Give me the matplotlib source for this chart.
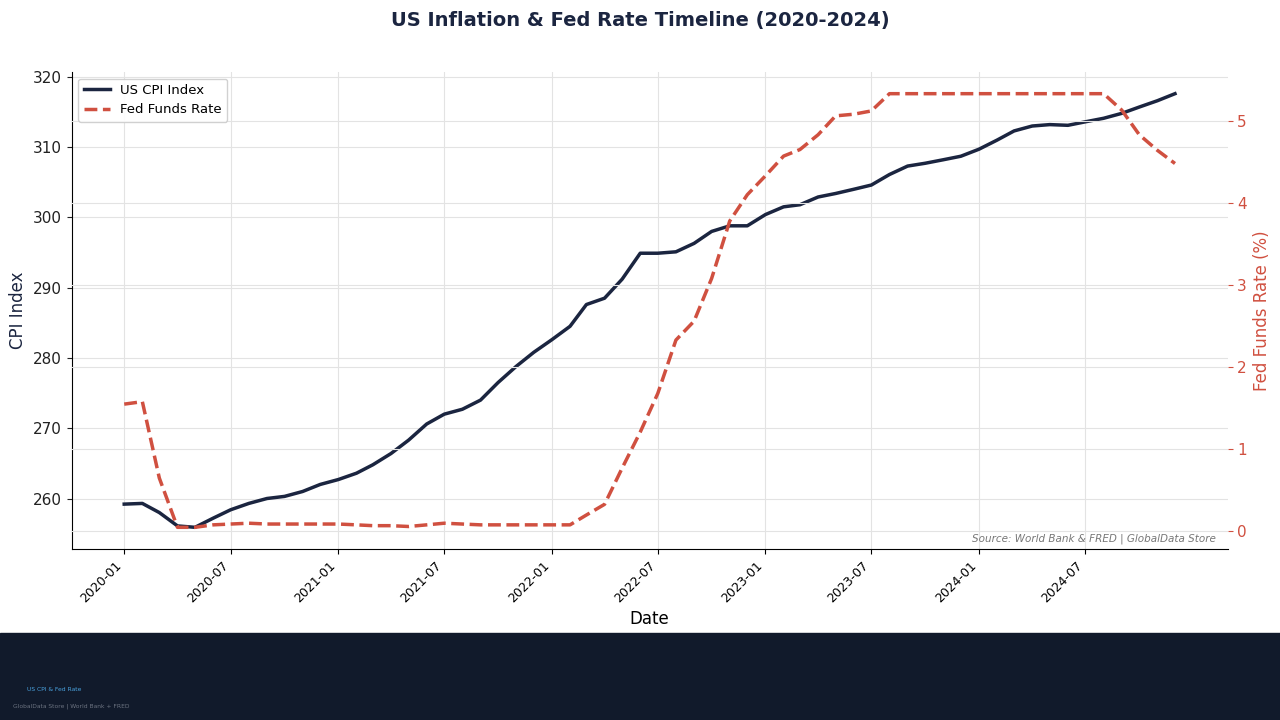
import matplotlib
matplotlib.use("Agg")
import matplotlib.pyplot as plt
import matplotlib.dates as mdates
import pandas as pd

# monthly values, Jan 2020 - Dec 2024
dates = pd.date_range("2020-01-01", "2024-12-01", freq="MS")

cpi = [
    259.2, 259.3, 258.0, 256.1, 255.9, 257.2, 258.4, 259.3, 260.0, 260.3, 261.0, 262.0,
    262.7, 263.6, 264.8, 266.4, 268.3, 270.6, 272.0, 272.7, 274.0, 276.5, 278.8, 280.8,
    282.6, 284.5, 287.6, 288.5, 291.2, 294.9, 294.9, 295.1, 296.3, 298.0, 298.8, 298.8,
    300.4, 301.5, 301.8, 302.9, 303.4, 304.0, 304.6, 306.1, 307.3, 307.7, 308.2, 308.7,
    309.7, 311.0, 312.3, 313.0, 313.2, 313.1, 313.6, 314.1, 314.8, 315.7, 316.6, 317.6,
]

fed_rate = [
    1.55, 1.58, 0.65, 0.05, 0.05, 0.08, 0.09, 0.10, 0.09, 0.09, 0.09, 0.09,
    0.09, 0.08, 0.07, 0.07, 0.06, 0.08, 0.10, 0.09, 0.08, 0.08, 0.08, 0.08,
    0.08, 0.08, 0.20, 0.33, 0.77, 1.21, 1.68, 2.33, 2.56, 3.08, 3.78, 4.10,
    4.33, 4.57, 4.65, 4.83, 5.06, 5.08, 5.12, 5.33, 5.33, 5.33, 5.33, 5.33,
    5.33, 5.33, 5.33, 5.33, 5.33, 5.33, 5.33, 5.33, 5.13, 4.83, 4.64, 4.48,
]

# half-year ticks shown on the x axis
tick_dates = pd.date_range("2020-01-01", "2024-07-01", freq="6MS")

navy = "#1b2540"
red = "#d05040"

fig = plt.figure(figsize=(12.8, 7.2), dpi=100)
ax = fig.add_axes([0.056, 0.2375, 0.903, 0.6625])
ax2 = ax.twinx()

l1, = ax.plot(dates, cpi, color=navy, lw=2.5, label="US CPI Index", zorder=3)
l2, = ax2.plot(dates, fed_rate, color=red, lw=2.5, ls="--", label="Fed Funds Rate", zorder=3)

ax.set_ylabel("CPI Index", fontsize=12, color=navy)
ax.set_xlabel("Date", fontsize=12)
ax2.set_ylabel("Fed Funds Rate (%)", fontsize=12, color=red)

ax.set_xticks(tick_dates)
ax.xaxis.set_major_formatter(mdates.DateFormatter("%Y-%m"))
plt.setp(ax.get_xticklabels(), rotation=45, ha="right", fontsize=9)
ax.tick_params(axis="y", labelsize=11, colors="#222222")
ax2.tick_params(axis="y", labelsize=11, colors=red)

ax.grid(True, color="#e3e3e3", lw=0.8)
ax2.grid(True, color="#e3e3e3", lw=0.8)
ax.set_axisbelow(True)
ax2.set_axisbelow(True)

for a in (ax, ax2):
    a.spines["top"].set_visible(False)
    a.spines["right"].set_visible(False)
ax2.spines["left"].set_visible(False)
ax2.spines["bottom"].set_visible(False)

ax2.legend(handles=[l1, l2], loc="upper left", fontsize=9.5, framealpha=0.9)

ax.text(0.99, 0.01, "Source: World Bank & FRED | GlobalData Store", transform=ax.transAxes,
        ha="right", va="bottom", fontsize=7.5, style="italic", color="#777777")

fig.suptitle("US Inflation & Fed Rate Timeline (2020-2024)", fontsize=14, fontweight="bold",
             color=navy, y=0.985)

# dark footer band
fig.patches.append(plt.Rectangle((0, 0), 1, 0.121, transform=fig.transFigure,
                                 color="#111a2b", zorder=-1))
fig.text(0.021, 0.040, "US CPI & Fed Rate", fontsize=4.3, color="#4aa3df")
fig.text(0.010, 0.017, "GlobalData Store | World Bank + FRED", fontsize=4.3, color="#6b7280")

fig.savefig("out.png", dpi=100)
